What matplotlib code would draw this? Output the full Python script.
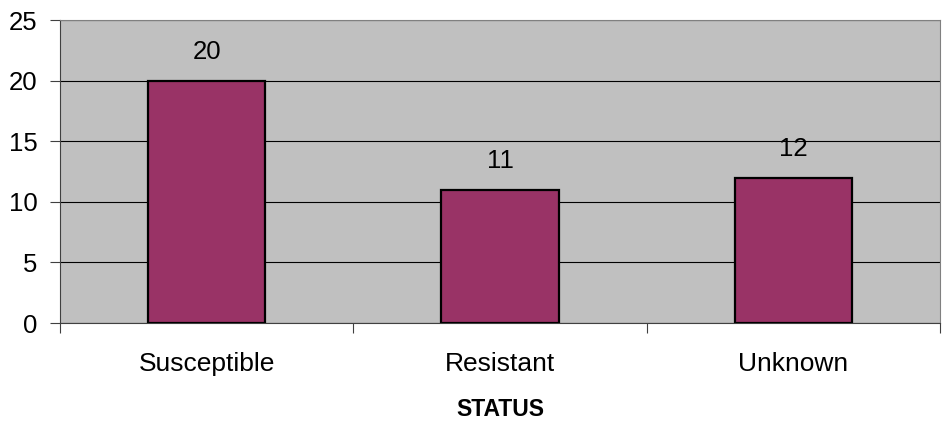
import matplotlib.pyplot as plt

# 数据
categories = ['Susceptible', 'Resistant', 'Unknown']
counts = [20, 11, 12]

plt.rcParams['font.family'] = ['Liberation Sans', 'DejaVu Sans']

fig = plt.figure(figsize=(9.43, 4.23), dpi=100)
ax = fig.add_axes([60 / 943, 1 - 323 / 423, 880 / 943, 303 / 423])

ax.set_facecolor('#c0c0c0')
x = list(range(len(categories)))
bars = ax.bar(x, counts, width=0.4, color='#993366', edgecolor='black', linewidth=1.6, zorder=3)

# 柱子上方的数值
for b, v in zip(bars, counts):
    ax.annotate(str(v), (b.get_x() + b.get_width() / 2, v), xytext=(0, 12),
                textcoords='offset points', ha='center', va='bottom', fontsize=18.5)

ax.set_xlim(-0.5, len(categories) - 0.5)
ax.set_ylim(0, 25)
ax.set_yticks([0, 5, 10, 15, 20, 25])
ax.yaxis.grid(True, color='black', linewidth=0.8, zorder=1)
ax.set_axisbelow(True)

# x轴：标签在中间，刻度线在分类边界
ax.set_xticks(x)
ax.set_xticklabels(categories, fontsize=19)
ax.set_xticks([i - 0.5 for i in range(len(categories) + 1)], minor=True)
ax.tick_params(axis='x', which='major', length=0, pad=21)
ax.tick_params(axis='x', which='minor', length=7, width=0.8, color='#404040')
ax.tick_params(axis='y', length=7, width=0.8, color='#404040', labelsize=18.5, pad=9)

for side in ['top', 'right']:
    ax.spines[side].set_color('#808080')
ax.spines['left'].set_color('#404040')
ax.spines['bottom'].set_color('#404040')

ax.set_xlabel('STATUS', fontweight='bold', fontsize=16.5, labelpad=16)

plt.savefig('out.png', dpi=100)
